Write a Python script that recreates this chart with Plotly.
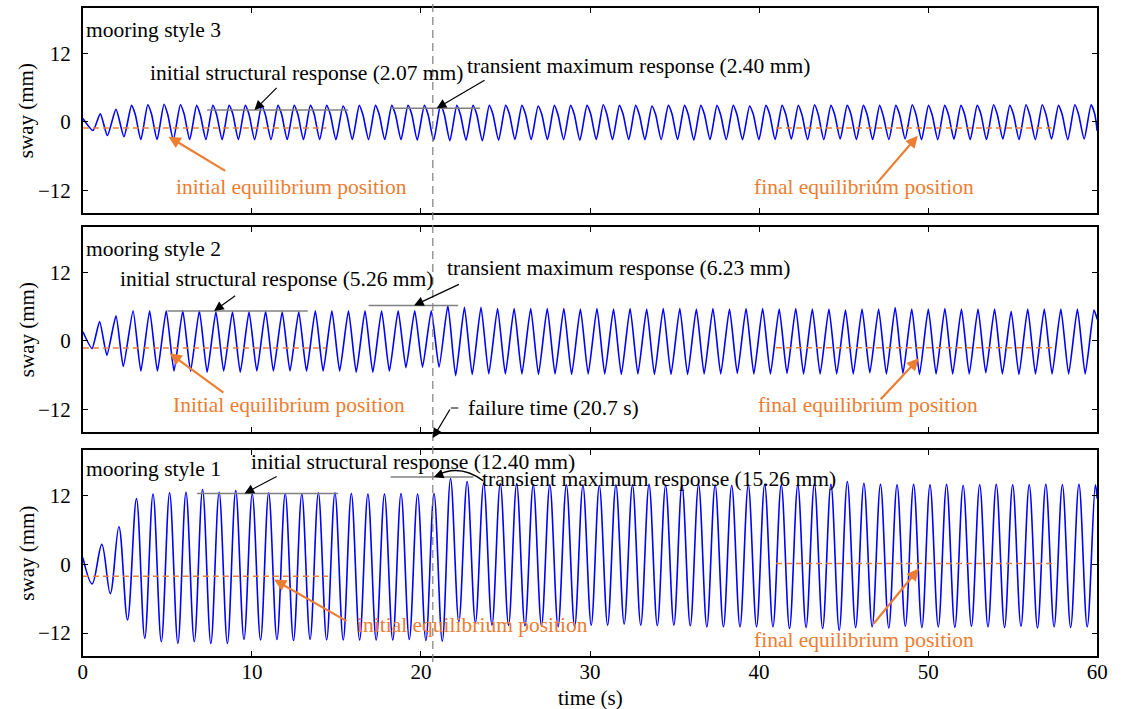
import plotly.graph_objects as go

W, H = 1122, 709

# ---------------- data ----------------
# mooring style 1: sway extrema (time in s, sway in mm)
t1 = [0.00, 0.55, 1.12, 1.62, 2.13, 2.64, 3.17, 3.66,
      4.15, 4.64, 5.13, 5.62, 6.10, 6.59, 7.08, 7.57, 8.06, 8.55, 9.04, 9.53,
      10.02, 10.51, 10.99, 11.48, 11.97, 12.46, 12.95, 13.44, 13.93, 14.42,
      14.91, 15.40, 15.88, 16.37, 16.86, 17.35, 17.84, 18.33, 18.82, 19.31,
      19.80, 20.29, 20.77, 21.26, 21.75, 22.24, 22.73, 23.22, 23.71, 24.20,
      24.69, 25.18, 25.66, 26.15, 26.64, 27.13, 27.62, 28.11, 28.60, 29.09,
      29.58, 30.07, 30.55, 31.04, 31.53, 32.02, 32.51, 33.00, 33.49, 33.98,
      34.47, 34.96, 35.44, 35.93, 36.42, 36.91, 37.40, 37.89, 38.38, 38.87,
      39.36, 39.85, 40.33, 40.82, 41.31, 41.80, 42.29, 42.78, 43.27, 43.76,
      44.25, 44.74, 45.22, 45.71, 46.20, 46.69, 47.18, 47.67, 48.16, 48.65,
      49.14, 49.63, 50.11, 50.60, 51.09, 51.58, 52.07, 52.56, 53.05, 53.54,
      54.03, 54.52, 55.00, 55.49, 55.98, 56.47, 56.96, 57.45, 57.94, 58.43,
      58.92, 59.41, 59.89, 60.00]
s1 = [1.2, -3.4, 3.5, -5.1, 6.6, -9.7, 11.5, -12.9,
      12.3, -13.5, 12.5, -13.8, 12.6, -13.5, 13.1, -13.8, 12.6, -13.8, 12.9, -13.1,
      12.3, -13.2, 12.5, -13.1, 12.4, -13.3, 12.3, -13.1, 12.5, -13.2,
      12.5, -13.2, 12.4, -13.2, 12.3, -13.2, 12.3, -13.2, 12.4, -13.1,
      12.3, -13.3, 12.4, -13.4, 15.0, -10.0, 14.5, -10.2, 14.2, -10.6,
      14.1, -10.6, 14.1, -10.7, 13.9, -10.7, 13.9, -10.9, 13.9, -10.9,
      13.8, -10.6, 13.8, -10.6, 13.9, -10.4, 13.9, -10.6, 14.0, -10.7,
      13.8, -10.6, 13.9, -10.7, 14.0, -10.9, 13.9, -10.9, 13.8, -10.9,
      13.9, -10.9, 14.0, -10.9, 13.9, -11.2, 13.9, -11.0, 14.1, -11.2,
      14.0, -11.5, 14.5, -11.0, 14.2, -10.9, 14.0, -11.1, 13.9, -10.8,
      14.0, -11.0, 13.9, -10.9, 14.0, -11.0, 13.8, -10.8, 13.9, -10.9,
      14.0, -11.0, 13.9, -10.8, 13.9, -11.1, 14.0, -10.9, 13.9, -11.0,
      14.0, -10.9, 13.9, 11.5]

# mooring style 2: sway extrema (time in s, sway in mm)
t2 = [0.00, 0.54, 0.99, 1.42, 1.96, 2.39, 2.97, 3.43,
      3.95, 4.41, 4.93, 5.39, 5.91, 6.37, 6.89, 7.35, 7.87, 8.33, 8.85, 9.31,
      9.83, 10.29, 10.81, 11.27, 11.79, 12.25, 12.77, 13.23, 13.75, 14.21,
      14.73, 15.19, 15.71, 16.17, 16.69, 17.15, 17.67, 18.13, 18.65, 19.11,
      19.63, 20.09, 20.61, 21.07, 21.59, 22.05, 22.57, 23.03, 23.55, 24.01,
      24.53, 24.99, 25.51, 25.97, 26.49, 26.95, 27.47, 27.93, 28.45, 28.91,
      29.43, 29.89, 30.41, 30.87, 31.39, 31.85, 32.37, 32.83, 33.35, 33.81,
      34.33, 34.79, 35.31, 35.77, 36.29, 36.75, 37.27, 37.73, 38.25, 38.71,
      39.23, 39.69, 40.21, 40.67, 41.19, 41.65, 42.17, 42.63, 43.15, 43.61,
      44.13, 44.59, 45.11, 45.57, 46.09, 46.55, 47.07, 47.53, 48.05, 48.51,
      49.03, 49.49, 50.01, 50.47, 50.99, 51.45, 51.97, 52.43, 52.95, 53.41,
      53.93, 54.39, 54.91, 55.37, 55.89, 56.35, 56.87, 57.33, 57.85, 58.31,
      58.83, 59.29, 59.81, 60.00]
s2 = [1.6, -1.35, 3.4, -2.5, 4.4, -4.5, 5.3, -5.3,
      5.3, -5.3, 5.3, -5.3, 5.3, -5.3, 5.3, -5.5, 5.1, -5.3, 5.1, -5.5,
      5.1, -5.3, 5.2, -5.3, 5.1, -5.3, 5.1, -5.3, 5.3, -5.3,
      5.3, -5.3, 5.3, -5.5, 5.3, -5.5, 5.3, -5.3, 5.3, -4.7,
      5.3, -4.6, 5.3, -4.6, 6.2, -6.1, 5.9, -5.9, 5.9, -5.8,
      5.7, -5.8, 5.7, -5.8, 5.7, -5.9, 5.7, -5.8, 5.7, -5.9,
      5.6, -5.8, 5.7, -5.8, 5.6, -5.9, 5.7, -5.8, 5.6, -5.9,
      5.7, -5.9, 5.7, -5.9, 5.6, -5.8, 5.7, -5.8, 5.6, -5.7,
      5.7, -5.8, 5.7, -5.8, 5.6, -5.7, 5.7, -5.8, 5.6, -5.8,
      5.6, -5.8, 5.4, -5.8, 5.6, -5.6, 5.6, -5.8, 5.85, -5.7,
      5.6, -5.9, 5.6, -5.8, 5.7, -5.8, 5.6, -5.8, 5.6, -5.6,
      5.6, -5.8, 5.2, -5.9, 5.6, -5.8, 5.6, -5.8, 5.6, -5.8,
      5.6, -5.8, 5.4, 3.8]

# mooring style 3: sway turning points (peak, shoulder, trough per cycle)
t3 = [0.00, 0.60, 1.03, 1.45, 1.96, 2.43,
      2.88, 3.10, 3.43, 3.84, 4.06, 4.39, 4.80, 5.02, 5.35, 5.77, 5.99, 6.32,
      6.73, 6.95, 7.28, 7.69, 7.91, 8.24, 8.65, 8.87, 9.20, 9.61, 9.83, 10.16,
      10.58, 10.80, 11.13, 11.54, 11.76, 12.09, 12.50, 12.72, 13.05, 13.46, 13.68, 14.01,
      14.42, 14.64, 14.97, 15.39, 15.61, 15.94, 16.35, 16.57, 16.90, 17.31, 17.53, 17.86,
      18.27, 18.49, 18.82, 19.23, 19.45, 19.78, 20.20, 20.42, 20.75, 21.16, 21.38, 21.71,
      22.12, 22.34, 22.67, 23.08, 23.30, 23.63, 24.04, 24.26, 24.59, 25.01, 25.23, 25.56,
      25.97, 26.19, 26.52, 26.93, 27.15, 27.48, 27.89, 28.11, 28.44, 28.85, 29.07, 29.40,
      29.82, 30.04, 30.37, 30.78, 31.00, 31.33, 31.74, 31.96, 32.29, 32.70, 32.92, 33.25,
      33.66, 33.88, 34.21, 34.63, 34.85, 35.18, 35.59, 35.81, 36.14, 36.55, 36.77, 37.10,
      37.51, 37.73, 38.06, 38.47, 38.69, 39.02, 39.44, 39.66, 39.99, 40.40, 40.62, 40.95,
      41.36, 41.58, 41.91, 42.32, 42.54, 42.87, 43.28, 43.50, 43.83, 44.25, 44.47, 44.80,
      45.21, 45.43, 45.76, 46.17, 46.39, 46.72, 47.13, 47.35, 47.68, 48.09, 48.31, 48.64,
      49.06, 49.28, 49.61, 50.02, 50.24, 50.57, 50.98, 51.20, 51.53, 51.94, 52.16, 52.49,
      52.90, 53.12, 53.45, 53.87, 54.09, 54.42, 54.83, 55.05, 55.38, 55.79, 56.01, 56.34,
      56.75, 56.97, 57.30, 57.71, 57.93, 58.26, 58.68, 58.90, 59.23, 59.64, 59.86, 60.00]
s3 = [0.6, -1.5, 1.4, -2.4, 2.2, -2.6,
      2.9, 1.3, -3.1, 3.0, 1.4, -3.1, 3.1, 1.3, -3.1, 3.0, 1.4, -3.1,
      2.9, 1.2, -3.1, 2.9, 1.3, -3.1, 2.9, 1.4, -3.1, 2.9, 1.3, -3.1,
      2.9, 1.2, -3.1, 2.9, 1.3, -3.1, 2.9, 1.3, -3.1, 2.9, 1.4, -3.1,
      2.9, 1.3, -3.1, 2.8, 1.3, -3.1, 2.9, 1.2, -3.1, 2.9, 1.3, -3.1,
      2.9, 1.3, -3.1, 2.9, 1.4, -3.2, 2.9, 1.3, -3.2, 3.0, 1.3, -3.3,
      2.9, 1.2, -3.2, 2.9, 1.3, -3.3, 2.9, 1.3, -3.2, 2.9, 1.4, -3.1,
      2.9, 1.3, -3.1, 2.8, 1.3, -3.1, 2.9, 1.2, -3.1, 2.9, 1.3, -3.2,
      2.9, 1.4, -3.1, 3.0, 1.3, -3.1, 2.9, 1.3, -3.1, 2.9, 1.2, -3.1,
      2.8, 1.3, -3.1, 2.9, 1.4, -3.1, 2.9, 1.3, -3.2, 2.9, 1.3, -3.1,
      2.9, 1.2, -3.1, 2.9, 1.3, -3.1, 2.8, 1.3, -3.1, 2.9, 1.4, -3.1,
      2.9, 1.3, -3.0, 2.9, 1.2, -3.1, 3.0, 1.3, -3.1, 2.9, 1.3, -3.0,
      2.9, 1.4, -3.1, 2.9, 1.3, -3.1, 2.9, 1.0, -3.1, 2.9, 1.3, -3.0,
      3.0, 1.3, -3.1, 2.9, 1.2, -3.1, 2.9, 1.3, -3.0, 2.9, 1.3, -3.1,
      2.9, 1.4, -3.1, 3.0, 1.3, -3.0, 2.9, 1.3, -3.1, 3.0, 1.2, -3.1,
      3.0, 1.3, -3.0, 2.9, 1.3, -3.1, 3.0, 1.3, -3.0, 3.0, 1.3, -1.6]

panel_names = ["mooring style 1", "mooring style 2", "mooring style 3"]
initial_response = [12.40, 5.26, 2.07]      # mm
transient_response = [15.26, 6.23, 2.40]    # mm
initial_equilibrium = [-2.06, -1.24, -1.06]  # mm
final_equilibrium = [0.18, -1.20, -1.06]     # mm
failure_time = 20.7                           # s
x_ticks = [0, 10, 20, 30, 40, 50, 60]
y_ticks = [-12, 0, 12]
y_tick_text = ["\u221212", "0", "12"]

# ---------------- styling / placement ----------------
FONT = "Liberation Serif"
FS = 21
FS_NOTE = 21.5
BLUE = "#0000FF"
ORANGE = "#ED7D31"
GRAY = "#808080"


def px(x):
    return x / W


def py(y):
    return 1 - y / H


panel_px = [(656, 450), (432, 227), (213, 8)]  # bottom, top in pixels
x_dom = [px(79), px(1108)]
smooth = [1.0, 0.5, 0.6]

init_span = [(6.76, 15.1), (5.0, 13.3), (7.35, 15.7)]
trans_span = [(18.2, 23.1), (16.9, 22.2), (18.2, 23.5)]
init_eq_span = [(0, 14.5), (0, 14.4), (0, 14.4)]
final_eq_span = [(41.0, 57.4), (41.0, 57.5), (41.0, 57.3)]

label_pos = [(80, 469), (80, 249), (80, 30)]
init_text_pos = [(248, 462), (115, 279), (145, 73)]
trans_text_pos = [(482, 479), (446, 268), (467, 66)]
init_eq_label = ["initial equilibrium position", "Initial equilibrium position",
                 "initial equilibrium position"]
init_eq_text_pos = [(355, 625), (168, 405), (171, 187)]
final_eq_text_pos = [(758, 640), (762, 405), (758, 187)]

# arrow tails (s, mm) and head x positions (s)
init_arrow = [((11.55, 15.52), 9.56), ((9.10, 8.10), 7.76), ((11.55, 6.23), 10.15)]
trans_arrow = [None, ((22.33, 10.05), 19.59), ((23.85, 7.46), 20.93)]
init_eq_arrow = [((15.69, -10.05), (11.31, -2.65)), ((8.40, -9.27), (5.13, -2.18)),
                 ((8.51, -8.77), (5.07, -2.59))]
final_eq_arrow = [((46.71, -10.58), (49.45, -0.71)), ((47.11, -10.51), (49.45, -3.07)),
                  ((46.88, -11.06), (49.39, -2.42))]

fig = go.Figure()
annotations = []
shapes = []
series = [(t1, s1), (t2, s2), (t3, s3)]

for i, (t, s) in enumerate(series):
    sfx = "" if i == 0 else str(i + 1)
    xa, ya = "x" + sfx, "y" + sfx
    fig.add_trace(go.Scatter(
        x=t, y=s, mode="lines", xaxis=xa, yaxis=ya, hoverinfo="skip",
        line=dict(color=BLUE, width=1.6, shape="spline", smoothing=smooth[i])))
    # response reference levels
    for span, val in ((init_span[i], initial_response[i]),
                      (trans_span[i], transient_response[i])):
        fig.add_trace(go.Scatter(x=list(span), y=[val, val], mode="lines",
                                 xaxis=xa, yaxis=ya, hoverinfo="skip",
                                 line=dict(color=GRAY, width=1.5)))
    # equilibrium positions
    for span, val in ((init_eq_span[i], initial_equilibrium[i]),
                      (final_eq_span[i], final_equilibrium[i])):
        fig.add_trace(go.Scatter(x=list(span), y=[val, val], mode="lines",
                                 xaxis=xa, yaxis=ya, hoverinfo="skip",
                                 line=dict(color=ORANGE, width=1.5, dash="6px,4px")))

    bottom, top = panel_px[i]
    fig.layout["xaxis" + sfx] = dict(
        domain=x_dom, range=[0, 60], anchor=ya, tickvals=x_ticks,
        showticklabels=(i == 0), ticks="inside", ticklen=5, tickwidth=1,
        tickcolor="black", showline=True, linecolor="black", linewidth=1.6,
        mirror="ticks", showgrid=False, zeroline=False,
        tickfont=dict(family=FONT, size=FS, color="black"), ticklabelstandoff=-4)
    if i > 0:
        fig.layout["xaxis" + sfx].matches = "x"
    fig.layout["yaxis" + sfx] = dict(
        domain=[py(bottom), py(top)], range=[-16, 20], anchor=xa,
        tickvals=y_ticks, ticktext=y_tick_text, ticks="inside", ticklen=5,
        tickwidth=1, tickcolor="black", showline=True, linecolor="black",
        linewidth=1.6, mirror="ticks", showgrid=False, zeroline=False,
        tickfont=dict(family=FONT, size=FS, color="black"), ticklabelstandoff=6)

    def text(x, y, s, color="black"):
        annotations.append(dict(x=px(x), y=py(y), xref="paper", yref="paper",
                                text=s, showarrow=False, xanchor="left",
                                yanchor="middle",
                                font=dict(family=FONT, size=FS_NOTE, color=color)))

    text(*label_pos[i], panel_names[i])
    text(*init_text_pos[i], f"initial structural response ({initial_response[i]:.2f} mm)")
    text(*trans_text_pos[i], f"transient maximum response ({transient_response[i]:.2f} mm)")
    text(*init_eq_text_pos[i], init_eq_label[i], ORANGE)
    text(*final_eq_text_pos[i], "final equilibrium position", ORANGE)

    # y-axis title
    annotations.append(dict(x=px(22), y=py((top + bottom) / 2), xref="paper",
                            yref="paper", text="sway (mm)", showarrow=False,
                            textangle=-90, xanchor="center", yanchor="middle",
                            font=dict(family=FONT, size=FS, color="black")))

    def arrow(tail, head, color, width, size):
        annotations.append(dict(x=head[0], y=head[1], xref=xa, yref=ya,
                                ax=tail[0], ay=tail[1], axref=xa, ayref=ya,
                                text="", showarrow=True, arrowhead=2,
                                arrowsize=size, arrowwidth=width,
                                arrowcolor=color, standoff=0))

    tail, hx = init_arrow[i]
    arrow(tail, (hx, initial_response[i]), "black", 1.2, 1.6)
    if trans_arrow[i] is not None:
        tail, hx = trans_arrow[i]
        arrow(tail, (hx, transient_response[i]), "black", 1.2, 1.6)
    tail, head = init_eq_arrow[i]
    arrow(tail, head, ORANGE, 2.2, 1.1)
    tail, head = final_eq_arrow[i]
    arrow(tail, head, ORANGE, 2.2, 1.1)

# curved pointer for the transient maximum response of mooring style 1
shapes.append(dict(type="path", xref="x", yref="y",
                   path="M 23.67,14.64 Q 22.3,17.6 20.95,15.6",
                   line=dict(color="black", width=1.4)))
annotations.append(dict(x=20.76, y=transient_response[0], xref="x", yref="y",
                        ax=21.25, ay=15.8, axref="x", ayref="y", text="",
                        showarrow=True, arrowhead=2, arrowsize=1.6,
                        arrowwidth=1.2, arrowcolor="black", standoff=0))

# failure time marker
shapes.append(dict(type="line", xref="x", yref="paper", x0=failure_time,
                   x1=failure_time, y0=py(662), y1=py(3),
                   line=dict(color="#7f7f7f", width=1.2, dash="8px,5px")))
annotations.append(dict(x=failure_time, y=py(438), xref="x", yref="paper",
                        ax=18, ay=-30, text="", showarrow=True, arrowhead=2,
                        arrowsize=1.6, arrowwidth=1.2, arrowcolor="black",
                        standoff=0))
annotations.append(dict(x=failure_time, y=py(408), xref="x", yref="paper",
                        xshift=18, ax=9, ay=0, text="", showarrow=True,
                        arrowhead=0, arrowwidth=1.2, arrowcolor="black"))
annotations.append(dict(x=failure_time, y=py(408), xref="x", yref="paper",
                        xshift=33, text=f"failure time ({failure_time:.1f} s)",
                        showarrow=False, xanchor="left", yanchor="middle",
                        font=dict(family=FONT, size=FS_NOTE, color="black")))

# x-axis title
annotations.append(dict(x=px(594), y=py(698), xref="paper", yref="paper",
                        text="time (s)", showarrow=False, xanchor="center",
                        yanchor="middle",
                        font=dict(family=FONT, size=FS, color="black")))

fig.update_layout(
    width=W, height=H, margin=dict(l=0, r=0, t=0, b=0),
    paper_bgcolor="white", plot_bgcolor="white", showlegend=False,
    hovermode=False, font=dict(family=FONT, size=FS, color="black"),
    annotations=annotations, shapes=shapes)

fig.write_html("out.html")
